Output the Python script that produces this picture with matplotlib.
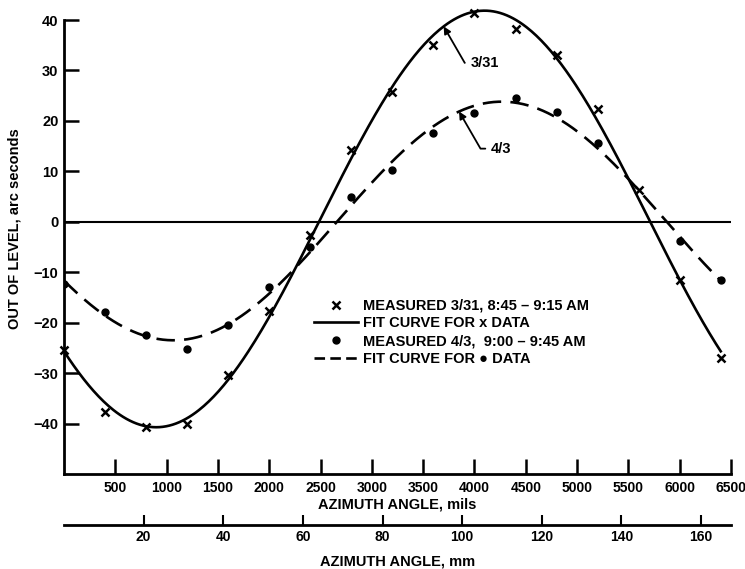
import numpy as np
import matplotlib
matplotlib.use('Agg')
import matplotlib.pyplot as plt
from matplotlib.lines import Line2D
from matplotlib.legend_handler import HandlerLine2D

plt.rcParams['font.family'] = ['Liberation Sans', 'DejaVu Sans']
plt.rcParams['font.weight'] = 'bold'
plt.rcParams['axes.labelweight'] = 'bold'

# azimuth in mils (readings every 400 mils)
azimut = [0, 400, 800, 1200, 1600, 2000, 2400, 2800, 3200,
          3600, 4000, 4400, 4800, 5200, 5600, 6000, 6400]
medida_331 = [-25.4, -37.8, -40.7, -40.0, -30.3, -17.7, -2.7, 14.3, 25.7,
              35.1, 41.4, 38.2, 33.1, 22.3, 6.3, -11.5, -27.0]

azimut_43 = [0, 400, 800, 1200, 1600, 2000, 2400, 2800, 3200,
             3600, 4000, 4400, 4800, 5200, 6000, 6400]
medida_43 = [-12.3, -17.8, -22.5, -25.2, -20.5, -13.0, -5.0, 5.0, 10.3,
             17.6, 21.5, 24.6, 21.7, 15.6, -3.9, -11.5]

periodo = 6400.0
mils_por_mm = 38.8

y_ticks = [-40, -30, -20, -10, 0, 10, 20, 30, 40]
x_ticks = [500, 1000, 1500, 2000, 2500, 3000, 3500, 4000, 4500, 5000, 5500, 6000, 6500]
mm_ticks = [20, 40, 60, 80, 100, 120, 140, 160]


def base(x):
    w = 2 * np.pi * np.asarray(x, dtype=float) / periodo
    return np.column_stack([np.ones_like(w), np.cos(w), np.sin(w)])


def ajuste(x, y):
    coef, *_ = np.linalg.lstsq(base(x), np.asarray(y), rcond=None)
    return lambda t: base(t) @ coef


fit_331 = ajuste(azimut, medida_331)
fit_43 = ajuste(azimut_43, medida_43)
xs = np.linspace(0, 6400, 400)


class MarcaDireita(HandlerLine2D):
    def get_xdata(self, legend, xdescent, ydescent, width, height, fontsize):
        xdata = np.linspace(-xdescent, -xdescent + width, 2)
        return xdata, np.array([-xdescent + 0.93 * width])


fig = plt.figure(figsize=(7.45, 5.69), dpi=100)
ax = fig.add_axes([64 / 745, 1 - 474 / 569, (731 - 64) / 745, (474 - 20) / 569])

ax.plot(xs, fit_331(xs), color='black', lw=1.9, clip_on=False)
ax.plot(xs, fit_43(xs), color='black', lw=1.9, dashes=(7, 3.5))
ax.plot(azimut, medida_331, ls='none', marker='x', ms=5.5, mew=1.8, color='black',
        clip_on=False)
ax.plot(azimut_43, medida_43, ls='none', marker='o', ms=5, color='black')
ax.axhline(0, color='black', lw=1.5)

ax.set_xlim(0, 6500)
ax.set_ylim(-50, 40)
ax.spines['top'].set_visible(False)
ax.spines['right'].set_visible(False)
ax.spines['left'].set_linewidth(2)
ax.spines['bottom'].set_linewidth(2)
ax.set_xticks(x_ticks)
ax.set_yticks(y_ticks)
ax.tick_params(axis='both', direction='in', length=11, width=1.8, labelsize=10.5)
ax.tick_params(axis='x', pad=5, labelsize=10)
ax.tick_params(axis='y', pad=4)
ax.set_xlabel('AZIMUTH ANGLE, mils', fontsize=10.5, labelpad=2)
ax.set_ylabel('OUT OF LEVEL, arc seconds', fontsize=10.5)
ax.yaxis.set_label_coords(-0.064, 0.54)

# escala em mm
sec = ax.secondary_xaxis(-0.112, functions=(lambda m: m / mils_por_mm,
                                            lambda mm: mm * mils_por_mm))
sec.set_xticks(mm_ticks)
sec.spines['bottom'].set_linewidth(2)
sec.tick_params(direction='in', length=7, width=1.5, labelsize=10, pad=4)
sec.set_xlabel('AZIMUTH ANGLE, mm', fontsize=10.5, labelpad=7)

# anotações das curvas
ax.annotate('3/31', xy=(3700, fit_331(3700)[0]), xytext=(3960, 31.5),
            fontsize=10.5, va='center',
            arrowprops=dict(arrowstyle='-|>', color='black', lw=1.3,
                            shrinkA=2, shrinkB=0,
                            connectionstyle='angle,angleA=0,angleB=-60,rad=0'))
ax.annotate('4/3', xy=(3850, fit_43(3850)[0]), xytext=(4160, 14.5),
            fontsize=10.5, va='center',
            arrowprops=dict(arrowstyle='-|>', color='black', lw=1.3,
                            shrinkA=2, shrinkB=0,
                            connectionstyle='angle,angleA=0,angleB=-60,rad=0'))

h1 = Line2D([], [], ls='none', marker='x', ms=5.5, mew=1.8, color='black')
h2 = Line2D([], [], color='black', lw=1.9)
h3 = Line2D([], [], ls='none', marker='o', ms=5, color='black')
h4 = Line2D([], [], color='black', lw=1.9, dashes=(4, 2))
ax.legend([h1, h2, h3, h4],
          ['MEASURED 3/31, 8:45 \u2013 9:15 AM', 'FIT CURVE FOR x DATA',
           'MEASURED 4/3,  9:00 \u2013 9:45 AM', 'FIT CURVE FOR \u25CF DATA'],
          loc='upper left', bbox_to_anchor=(0.355, 0.415), frameon=False,
          fontsize=10.5, handlelength=3.0, handletextpad=0.4, labelspacing=0.25,
          handler_map={h1: MarcaDireita(numpoints=1), h3: MarcaDireita(numpoints=1)})

fig.savefig('out.png', dpi=100)
